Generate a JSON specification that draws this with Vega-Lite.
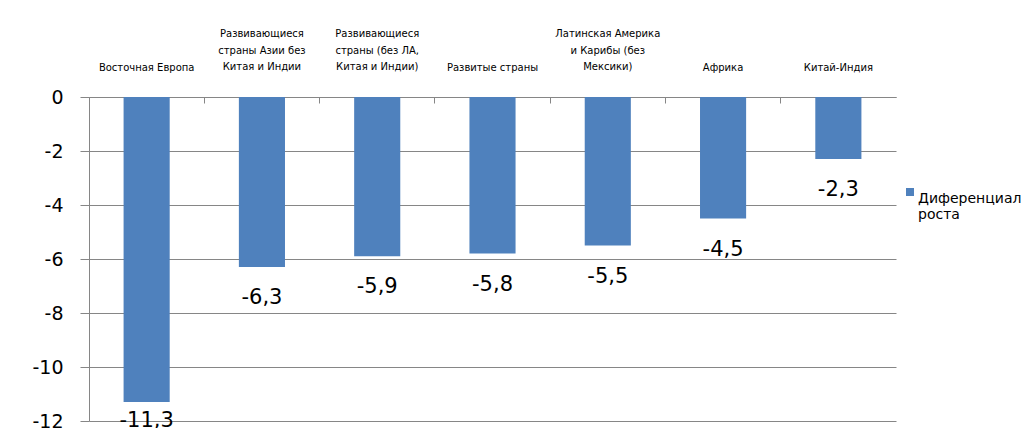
{
  "$schema": "https://vega.github.io/schema/vega-lite/v6.json",
  "width": 807,
  "height": 324,
  "autosize": {"type": "none"},
  "padding": {"left": 89, "top": 97, "right": 128, "bottom": 7},
  "background": "white",
  "data": {
    "values": [
      {"region": "Восточная Европа", "value": -11.3, "series": "Диференциал роста"},
      {"region": "Развивающиеся\nстраны Азии без\nКитая и Индии", "value": -6.3, "series": "Диференциал роста"},
      {"region": "Развивающиеся\nстраны (без ЛА,\nКитая и Индии)", "value": -5.9, "series": "Диференциал роста"},
      {"region": "Развитые страны", "value": -5.8, "series": "Диференциал роста"},
      {"region": "Латинская Америка\nи Карибы  (без\nМексики)", "value": -5.5, "series": "Диференциал роста"},
      {"region": "Африка", "value": -4.5, "series": "Диференциал роста"},
      {"region": "Китай-Индия", "value": -2.3, "series": "Диференциал роста"}
    ]
  },
  "encoding": {
    "x": {
      "field": "region",
      "type": "nominal",
      "sort": null,
      "scale": {"paddingInner": 0, "paddingOuter": 0},
      "axis": {
        "orient": "top",
        "title": null,
        "labels": false,
        "bandPosition": 0,
        "domain": true,
        "domainColor": "#868686",
        "ticks": true,
        "tickSize": -6,
        "tickColor": "#868686",
        "grid": false
      }
    },
    "y": {
      "field": "value",
      "type": "quantitative",
      "scale": {"domain": [-12, 0], "nice": false},
      "axis": {
        "title": null,
        "values": [-12, -10, -8, -6, -4, -2, 0],
        "format": "d",
        "labelFont": "DejaVu Sans",
        "labelFontSize": 19,
        "labelColor": "#000000",
        "labelPadding": 17,
        "tickSize": 9,
        "tickColor": "#868686",
        "domainColor": "#868686",
        "grid": true,
        "gridColor": "#868686",
        "gridOpacity": 1
      }
    }
  },
  "layer": [
    {
      "mark": {"type": "bar", "width": {"band": 0.4}},
      "encoding": {
        "color": {
          "field": "series",
          "type": "nominal",
          "scale": {"range": ["#4F81BD"]},
          "legend": {
            "title": null,
            "orient": "none",
            "legendX": 814,
            "legendY": 88,
            "padding": 0,
            "symbolType": "square",
            "symbolSize": 64,
            "symbolStrokeWidth": 0,
            "labelFont": "DejaVu Sans",
            "labelFontSize": 14,
            "labelColor": "#000000",
            "labelLimit": 300,
            "labelExpr": "split(datum.label, ' ')",
            "labelBaseline": "top",
            "labelOffset": 1
          }
        }
      }
    },
    {
      "mark": {
        "type": "text",
        "font": "DejaVu Sans",
        "fontSize": 21,
        "color": "#000000",
        "baseline": "alphabetic",
        "dy": {"expr": "datum.value < -10 ? 25 : 37"}
      },
      "encoding": {
        "text": {"field": "value", "type": "quantitative", "format": ".1f"}
      }
    },
    {
      "mark": {
        "type": "text",
        "font": "DejaVu Sans",
        "fontSize": 10,
        "color": "#000000",
        "align": "center",
        "baseline": "alphabetic",
        "lineBreak": "\n",
        "lineHeight": 16.5,
        "dy": {"expr": "indexof(datum.region, '\\n') < 0 ? -26 : -60"}
      },
      "encoding": {
        "y": {"datum": 0},
        "text": {"field": "region", "type": "nominal"}
      }
    }
  ],
  "config": {
    "view": {"stroke": null},
    "locale": {
      "number": {
        "decimal": ",",
        "thousands": " ",
        "grouping": [3],
        "currency": ["", ""],
        "minus": "-"
      }
    }
  }
}
